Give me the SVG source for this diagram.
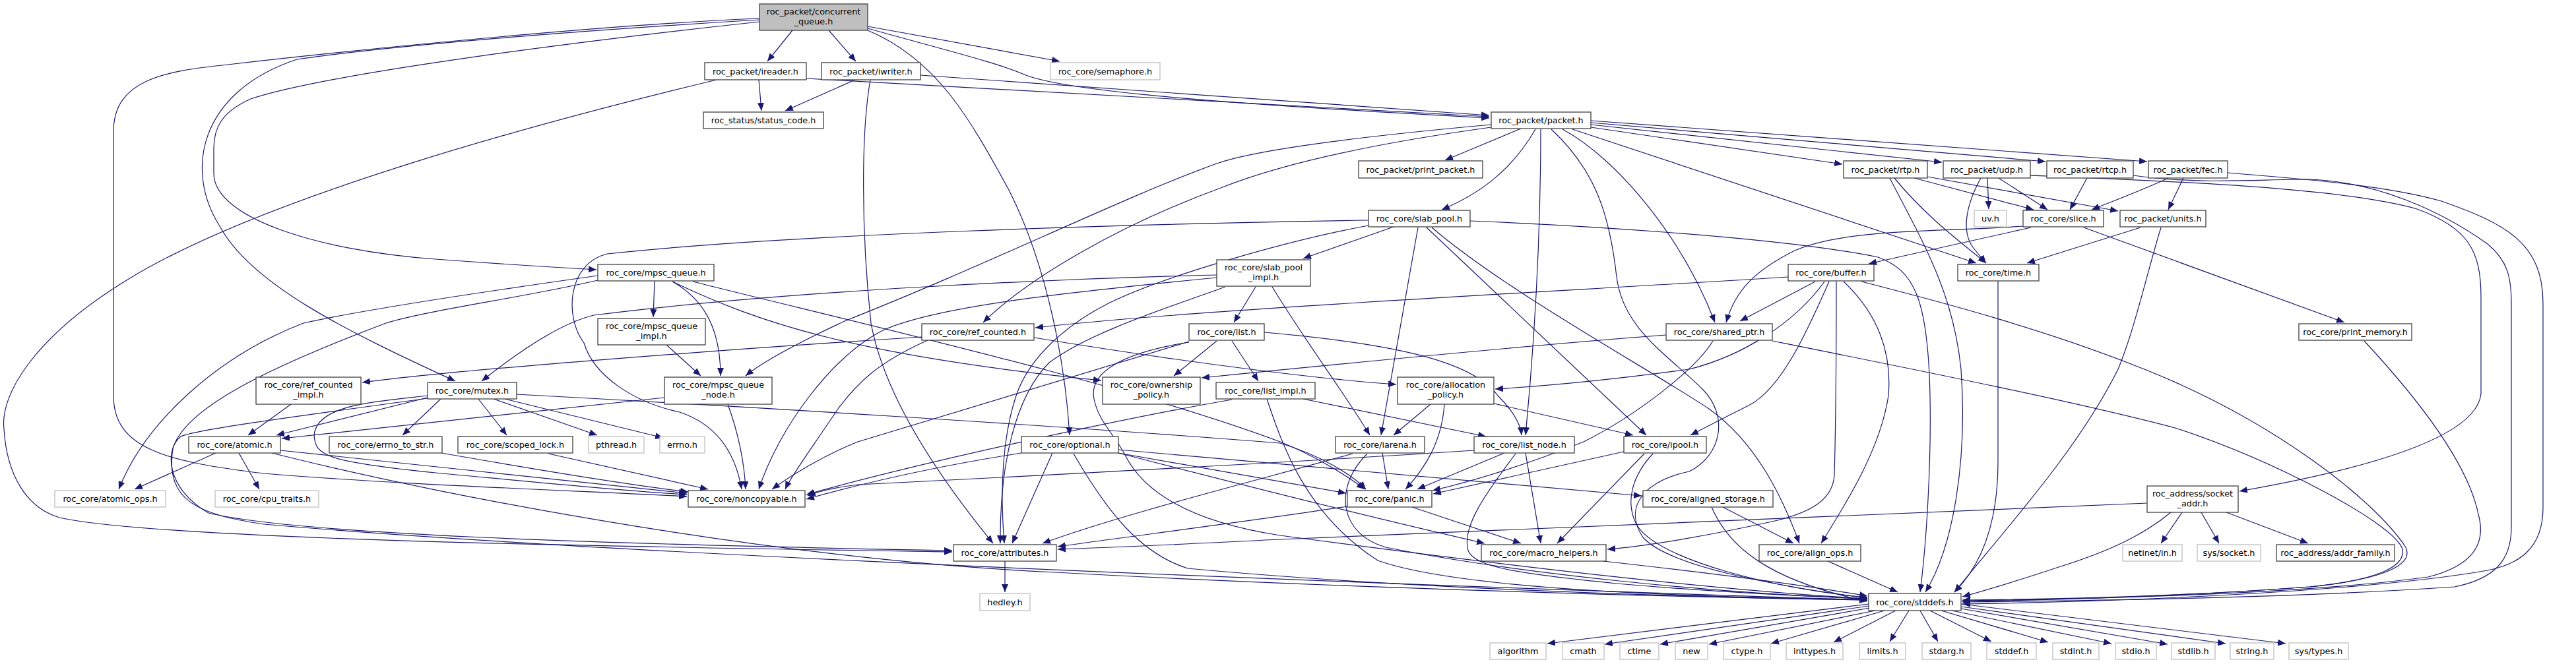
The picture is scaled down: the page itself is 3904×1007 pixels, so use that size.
<svg xmlns="http://www.w3.org/2000/svg" width="3904" height="1007" viewBox="0 0 3904 1007">
<defs>
<style>
.e path{fill:none;stroke:#191970;stroke-width:1.2;marker-end:url(#a)}
.n rect{fill:#fff;stroke:#404040;stroke-width:1.3}
.x rect{fill:#fff;stroke:#bfbfbf;stroke-width:1.3}
.r rect{fill:#bfbfbf;stroke:#404040;stroke-width:1.3}
text{font-family:"DejaVu Sans","Liberation Sans",sans-serif;font-size:12.8px;text-anchor:middle;fill:#000}
</style>
<marker id="a" markerUnits="userSpaceOnUse" markerWidth="12" markerHeight="10" refX="12" refY="5" orient="auto"><path d="M0,0 L12,5 L0,10 z" fill="#191970"/></marker>
</defs>
<rect width="3904" height="1007" fill="#fff"/>
<g id="edges" class="e">
<path d="M1201,46 L1163,93"/>
<path d="M1256,46 L1297,93"/>
<path d="M1315,40 L1606,93"/>
<path d="M1315,43 C1440,78 1510,95 1550,112 C1600,135 1800,155 2257,179"/>
<path d="M1151,33 C900,60 500,110 380,150 C335,170 324,195 324,225 L324,263 C324,330 480,380 660,393 C780,402 850,406 904,409"/>
<path d="M1151,30 C900,45 600,68 450,90 C300,140 280,260 333,343 C380,430 520,500 690,578"/>
<path d="M1151,28 C900,38 500,80 345,98 C250,108 172,120 172,200 L172,600 C172,680 250,700 400,718 C600,735 900,745 1041,753"/>
<path d="M1315,46 C1420,90 1470,180 1530,290 C1590,410 1615,560 1621,660"/>
<path d="M1150,121 L1154,168"/>
<path d="M1296,121 L1190,168"/>
<path d="M1222,119 L2257,177"/>
<path d="M1395,114 L2257,175"/>
<path d="M1086,121 C800,190 400,300 200,420 C50,510 0,600 6,650 C10,720 40,770 90,785 C250,820 1000,830 1443,837"/>
<path d="M1319,121 C1305,200 1305,350 1320,490 C1340,600 1420,720 1505,824"/>
<path d="M2305,195 L2190,243"/>
<path d="M2327,196 C2290,260 2240,295 2185,318"/>
<path d="M2411,193 L2792,249"/>
<path d="M2411,189 L2943,246"/>
<path d="M2411,186 L3100,245"/>
<path d="M2411,183 L3254,245"/>
<path d="M2383,196 L2995,399"/>
<path d="M2368,196 C2450,240 2550,360 2599,489"/>
<path d="M2335,196 C2335,300 2332,450 2312,660"/>
<path d="M2260,193 C2100,215 1950,245 1850,285 C1700,340 1560,420 1490,489"/>
<path d="M2260,189 C2050,208 1900,228 1844,248 C1700,300 1500,400 1280,487 C1220,515 1160,545 1130,570"/>
<path d="M2351,196 C2420,260 2440,330 2450,420 C2460,500 2530,540 2580,590 C2620,630 2610,690 2560,715 C2490,730 2460,770 2490,815 C2530,860 2700,890 2830,907"/>
<path d="M2112,344 L1975,392"/>
<path d="M2149,345 L2093,660"/>
<path d="M2162,345 L2495,660"/>
<path d="M2170,345 C2280,440 2500,560 2590,620 C2660,670 2700,750 2727,824"/>
<path d="M2228,335 C2400,342 2700,360 2846,390 C2900,410 2922,450 2925,600 C2927,700 2920,820 2910,898"/>
<path d="M2074,334 C1700,340 1200,355 920,385 C860,400 855,480 885,520 C900,570 960,610 1030,625 C1090,645 1115,690 1124,742"/>
<path d="M2074,342 C1950,365 1760,420 1680,460 C1620,490 1560,540 1540,600 C1520,660 1515,740 1522,824"/>
<path d="M1903,435 L1870,489"/>
<path d="M1844,417 C1600,423 1200,440 900,478 C850,490 790,530 730,578"/>
<path d="M1844,421 C1600,445 1420,465 1340,500 C1260,540 1180,650 1150,742"/>
<path d="M1857,435 C1760,470 1650,505 1590,550 C1540,600 1515,700 1516,824"/>
<path d="M1928,435 C1980,520 2040,600 2076,660"/>
<path d="M2901,270 L3082,318"/>
<path d="M2921,268 L3210,320"/>
<path d="M2871,270 C2920,330 2975,370 3010,399"/>
<path d="M2864,270 C2910,360 2960,440 2972,560 C2982,700 2960,830 2918,898"/>
<path d="M3012,270 L3014,317"/>
<path d="M3029,270 L3103,318"/>
<path d="M3002,270 C2980,310 2972,350 2990,375 C3000,388 3005,393 3010,399"/>
<path d="M3077,266 C3300,275 3550,285 3663,317 C3740,345 3760,380 3760,450 L3760,597 C3755,650 3650,700 3394,745"/>
<path d="M3163,270 L3137,318"/>
<path d="M3233,266 C3330,280 3420,272 3495,272 C3600,274 3700,320 3770,370 C3800,395 3806,420 3806,460 L3806,800 C3806,850 3780,878 3720,890 C3500,905 3200,911 2974,913"/>
<path d="M3286,270 C3255,285 3210,302 3170,318"/>
<path d="M3309,270 L3286,318"/>
<path d="M3376,262 C3500,272 3620,282 3700,305 C3800,340 3854,370 3854,460 L3854,770 C3854,830 3820,855 3770,865 C3600,895 3250,912 2974,916"/>
<path d="M3244,345 L3072,399"/>
<path d="M3275,345 C3255,410 3235,500 3210,560 C3150,680 3050,790 2962,898"/>
<path d="M3078,345 L2832,400"/>
<path d="M3066,343 C2950,352 2800,345 2720,380 C2660,410 2630,440 2616,489"/>
<path d="M3158,345 L3553,489"/>
<path d="M3028,426 L3028,700 C3028,800 3000,860 2962,898"/>
<path d="M3583,517 C3660,600 3740,700 3756,780 C3770,830 3740,860 3680,875 C3500,900 3200,908 2974,911"/>
<path d="M2710,420 C2400,440 1800,470 1569,497"/>
<path d="M2751,427 L2637,487"/>
<path d="M2772,427 C2740,500 2700,590 2650,615 C2610,635 2585,648 2562,660"/>
<path d="M2765,427 C2720,490 2640,540 2560,560 C2450,575 2350,585 2266,590"/>
<path d="M2783,427 C2783,550 2782,650 2780,720 C2778,760 2740,778 2690,790 C2600,810 2500,828 2436,833"/>
<path d="M2794,427 C2850,480 2867,540 2862,600 C2850,680 2800,760 2760,824"/>
<path d="M2821,427 C2950,460 3100,500 3250,560 C3450,640 3600,760 3646,830 C3660,860 3600,880 3500,890 C3300,905 3100,909 2974,910"/>
<path d="M2525,508 C2300,525 2000,555 1821,573"/>
<path d="M2596,517 C2570,560 2480,630 2400,670 C2300,710 2230,730 2171,744"/>
<path d="M2686,517 C2900,560 3150,610 3300,650 C3450,700 3620,790 3640,830 C3650,860 3600,880 3500,890 C3300,905 3100,910 2974,912"/>
<path d="M3307,777 L3275,824"/>
<path d="M3336,777 L3363,824"/>
<path d="M3374,777 L3498,824"/>
<path d="M3254,763 C3000,770 2500,795 1940,818 C1800,825 1700,830 1603,833"/>
<path d="M3290,777 C3250,810 3200,835 3120,860 C3060,880 3010,895 2974,905"/>
<path d="M2611,769 L2718,824"/>
<path d="M2594,769 C2620,830 2680,880 2830,912"/>
<path d="M2770,851 L2876,898"/>
<path d="M2430,851 C2600,870 2750,890 2830,904"/>
<path d="M1523,851 L1523,898"/>
<path d="M2042,768 C1900,790 1700,815 1603,829"/>
<path d="M2140,769 L2305,824"/>
<path d="M2832,916 L2345,976"/>
<path d="M2832,919 L2432,977"/>
<path d="M2834,922 L2516,977"/>
<path d="M2842,926 L2590,977"/>
<path d="M2856,926 L2684,976"/>
<path d="M2873,926 L2779,974"/>
<path d="M2893,926 L2864,973"/>
<path d="M2910,926 L2937,973"/>
<path d="M2925,926 L3018,973"/>
<path d="M2942,926 L3104,974"/>
<path d="M2958,926 L3200,976"/>
<path d="M2972,923 L3285,977"/>
<path d="M2972,920 L3373,976"/>
<path d="M2972,916 L3464,976"/>
<path d="M992,426 L990,481"/>
<path d="M1019,427 C1060,450 1092,490 1092,570"/>
<path d="M1019,427 C1150,490 1300,540 1669,577"/>
<path d="M1050,427 C1300,490 1700,580 1940,670 C1990,690 2040,720 2068,742"/>
<path d="M906,418 C750,440 550,470 460,490 C330,540 220,640 180,742"/>
<path d="M906,425 C800,450 650,470 585,490 C400,560 280,620 262,680 C250,760 300,780 400,795 C800,830 1600,870 2830,910"/>
<path d="M1010,523 L1062,570"/>
<path d="M1007,603 L427,665"/>
<path d="M1103,613 C1120,660 1128,700 1130,742"/>
<path d="M1397,511 C1100,530 700,560 549,580"/>
<path d="M1567,512 C1800,550 2000,575 2116,583"/>
<path d="M1406,516 C1330,550 1300,580 1270,620 C1230,680 1200,720 1190,742"/>
<path d="M441,613 L376,660"/>
<path d="M648,603 L419,660"/>
<path d="M668,605 L610,660"/>
<path d="M725,605 L768,660"/>
<path d="M748,605 L905,660"/>
<path d="M765,605 L1005,664"/>
<path d="M648,600 C560,610 480,615 476,660 C478,690 490,700 660,717 C800,730 950,745 1041,750"/>
<path d="M783,598 C1100,615 1600,645 1940,672 C2000,690 2050,720 2070,742"/>
<path d="M648,604 C500,625 300,650 274,662 C250,680 250,740 316,778 C450,810 900,825 1443,835"/>
<path d="M327,687 L204,742"/>
<path d="M362,687 L393,742"/>
<path d="M425,683 C600,700 900,735 1041,748"/>
<path d="M412,687 C700,760 1200,850 1600,868 C2000,890 2500,905 2830,910"/>
<path d="M669,687 C800,710 950,735 1043,746"/>
<path d="M831,688 L1073,742"/>
<path d="M1595,687 L1534,824"/>
<path d="M1548,687 C1400,710 1300,735 1222,757"/>
<path d="M1695,682 L2488,752"/>
<path d="M1695,687 L2040,748"/>
<path d="M1627,688 C1680,780 1730,840 1800,862 C2100,890 2500,905 2830,910"/>
<path d="M1695,687 C1900,740 2100,790 2250,824"/>
<path d="M1844,517 L1779,570"/>
<path d="M1867,517 L1907,578"/>
<path d="M1916,504 C2100,520 2230,545 2270,600 C2300,630 2305,650 2306,660"/>
<path d="M1802,518 C1600,580 1400,640 1300,670 C1250,690 1200,720 1170,742"/>
<path d="M1802,519 C1700,535 1650,565 1658,605 C1665,640 1690,660 1705,690 C1740,760 1830,795 1940,812 C2300,860 2600,895 2830,908"/>
<path d="M1975,605 L2252,662"/>
<path d="M1867,606 C1700,635 1400,700 1222,750"/>
<path d="M1920,605 C1945,680 1980,780 2088,850 C2200,890 2500,905 2830,909"/>
<path d="M2168,613 L2112,660"/>
<path d="M2189,613 C2185,670 2160,710 2130,742"/>
<path d="M2264,612 L2475,660"/>
<path d="M2095,687 L2104,742"/>
<path d="M2050,688 C1900,730 1700,780 1580,824"/>
<path d="M2072,688 C2020,740 2030,810 2100,830 C2300,870 2600,900 2830,908"/>
<path d="M2280,687 L2148,742"/>
<path d="M2312,687 L2335,824"/>
<path d="M2297,688 C2250,750 2215,800 2225,835 C2235,860 2300,870 2450,885 C2600,898 2750,905 2830,908"/>
<path d="M2234,683 C1900,705 1500,725 1300,735 C1260,740 1240,745 1224,752"/>
<path d="M2461,685 L2172,749"/>
<path d="M2492,688 L2360,824"/>
<path d="M2505,688 C2475,720 2462,760 2480,795 C2510,850 2700,895 2830,906"/>
</g>
<g id="n_concurrent" class="r"><rect x="1151" y="6" width="164" height="40"/><text x="1233" y="22">roc_packet/concurrent</text><text x="1233" y="37">_queue.h</text></g>
<g id="n_ireader" class="n"><rect x="1068" y="95" width="154" height="26"/><text x="1145" y="112.6">roc_packet/ireader.h</text></g>
<g id="n_iwriter" class="n"><rect x="1245" y="95" width="150" height="26"/><text x="1320" y="112.6">roc_packet/iwriter.h</text></g>
<g id="n_semaphore" class="x"><rect x="1592" y="95" width="166" height="26"/><text x="1675" y="112.6">roc_core/semaphore.h</text></g>
<g id="n_status_code" class="n"><rect x="1066" y="170" width="182" height="25"/><text x="1157" y="187.1">roc_status/status_code.h</text></g>
<g id="n_packet" class="n"><rect x="2260" y="170" width="151" height="25"/><text x="2335.5" y="187.1">roc_packet/packet.h</text></g>
<g id="n_print_packet" class="n"><rect x="2059" y="244" width="188" height="26"/><text x="2153" y="261.6">roc_packet/print_packet.h</text></g>
<g id="n_rtp" class="n"><rect x="2794" y="244" width="127" height="26"/><text x="2857.5" y="261.6">roc_packet/rtp.h</text></g>
<g id="n_udp" class="n"><rect x="2945" y="244" width="132" height="26"/><text x="3011" y="261.6">roc_packet/udp.h</text></g>
<g id="n_rtcp" class="n"><rect x="3102" y="244" width="131" height="26"/><text x="3167.5" y="261.6">roc_packet/rtcp.h</text></g>
<g id="n_fec" class="n"><rect x="3256" y="244" width="120" height="26"/><text x="3316" y="261.6">roc_packet/fec.h</text></g>
<g id="n_slab_pool" class="n"><rect x="2074" y="319" width="154" height="25"/><text x="2151" y="336.1">roc_core/slab_pool.h</text></g>
<g id="n_uv" class="x"><rect x="2992" y="319" width="49" height="25"/><text x="3016.5" y="336.1">uv.h</text></g>
<g id="n_slice" class="n"><rect x="3066" y="319" width="122" height="25"/><text x="3127" y="336.1">roc_core/slice.h</text></g>
<g id="n_units" class="n"><rect x="3213" y="319" width="130" height="25"/><text x="3278" y="336.1">roc_packet/units.h</text></g>
<g id="n_mpsc_queue" class="n"><rect x="906" y="401" width="176" height="25"/><text x="994" y="418.1">roc_core/mpsc_queue.h</text></g>
<g id="n_slab_pool_impl" class="n"><rect x="1844" y="394" width="142" height="40"/><text x="1915" y="410">roc_core/slab_pool</text><text x="1915" y="425">_impl.h</text></g>
<g id="n_buffer" class="n"><rect x="2710" y="401" width="130" height="25"/><text x="2775" y="418.1">roc_core/buffer.h</text></g>
<g id="n_time" class="n"><rect x="2967" y="401" width="123" height="25"/><text x="3028.5" y="418.1">roc_core/time.h</text></g>
<g id="n_mpsc_queue_impl" class="n"><rect x="906" y="483" width="163" height="40"/><text x="987.5" y="499">roc_core/mpsc_queue</text><text x="987.5" y="514">_impl.h</text></g>
<g id="n_ref_counted" class="n"><rect x="1397" y="491" width="170" height="25"/><text x="1482" y="508.1">roc_core/ref_counted.h</text></g>
<g id="n_list" class="n"><rect x="1802" y="491" width="114" height="25"/><text x="1859" y="508.1">roc_core/list.h</text></g>
<g id="n_shared_ptr" class="n"><rect x="2525" y="491" width="161" height="25"/><text x="2605.5" y="508.1">roc_core/shared_ptr.h</text></g>
<g id="n_print_memory" class="n"><rect x="3484" y="491" width="171" height="25"/><text x="3569.5" y="508.1">roc_core/print_memory.h</text></g>
<g id="n_ref_counted_impl" class="n"><rect x="388" y="572" width="159" height="41"/><text x="467.5" y="588">roc_core/ref_counted</text><text x="467.5" y="603">_impl.h</text></g>
<g id="n_mutex" class="n"><rect x="648" y="580" width="135" height="25"/><text x="715.5" y="597.1">roc_core/mutex.h</text></g>
<g id="n_mpsc_queue_node" class="n"><rect x="1007" y="572" width="163" height="41"/><text x="1088.5" y="588">roc_core/mpsc_queue</text><text x="1088.5" y="603">_node.h</text></g>
<g id="n_ownership_policy" class="n"><rect x="1671" y="572" width="148" height="41"/><text x="1745" y="588">roc_core/ownership</text><text x="1745" y="603">_policy.h</text></g>
<g id="n_list_impl" class="n"><rect x="1843" y="580" width="150" height="25"/><text x="1918" y="597.1">roc_core/list_impl.h</text></g>
<g id="n_allocation_policy" class="n"><rect x="2118" y="572" width="146" height="41"/><text x="2191" y="588">roc_core/allocation</text><text x="2191" y="603">_policy.h</text></g>
<g id="n_atomic" class="n"><rect x="286" y="662" width="139" height="25"/><text x="355.5" y="679.1">roc_core/atomic.h</text></g>
<g id="n_errno_to_str" class="n"><rect x="499" y="662" width="171" height="25"/><text x="584.5" y="679.1">roc_core/errno_to_str.h</text></g>
<g id="n_scoped_lock" class="n"><rect x="694" y="662" width="174" height="25"/><text x="781" y="679.1">roc_core/scoped_lock.h</text></g>
<g id="n_pthread" class="x"><rect x="892" y="662" width="84" height="25"/><text x="934" y="679.1">pthread.h</text></g>
<g id="n_errno" class="x"><rect x="1000" y="662" width="68" height="25"/><text x="1034" y="679.1">errno.h</text></g>
<g id="n_optional" class="n"><rect x="1548" y="662" width="147" height="25"/><text x="1621.5" y="679.1">roc_core/optional.h</text></g>
<g id="n_iarena" class="n"><rect x="2024" y="662" width="135" height="25"/><text x="2091.5" y="679.1">roc_core/iarena.h</text></g>
<g id="n_list_node" class="n"><rect x="2234" y="662" width="152" height="25"/><text x="2310" y="679.1">roc_core/list_node.h</text></g>
<g id="n_ipool" class="n"><rect x="2461" y="662" width="125" height="25"/><text x="2523.5" y="679.1">roc_core/ipool.h</text></g>
<g id="n_atomic_ops" class="x"><rect x="83" y="744" width="168" height="25"/><text x="167" y="761.1">roc_core/atomic_ops.h</text></g>
<g id="n_cpu_traits" class="x"><rect x="326" y="744" width="157" height="25"/><text x="404.5" y="761.1">roc_core/cpu_traits.h</text></g>
<g id="n_noncopyable" class="n"><rect x="1043" y="744" width="177" height="25"/><text x="1131.5" y="761.1">roc_core/noncopyable.h</text></g>
<g id="n_panic" class="n"><rect x="2042" y="744" width="128" height="25"/><text x="2106" y="761.1">roc_core/panic.h</text></g>
<g id="n_aligned_storage" class="n"><rect x="2490" y="744" width="197" height="25"/><text x="2588.5" y="761.1">roc_core/aligned_storage.h</text></g>
<g id="n_socket_addr" class="n"><rect x="3254" y="737" width="138" height="40"/><text x="3323" y="753">roc_address/socket</text><text x="3323" y="768">_addr.h</text></g>
<g id="n_attributes" class="n"><rect x="1445" y="826" width="156" height="25"/><text x="1523" y="843.1">roc_core/attributes.h</text></g>
<g id="n_macro_helpers" class="n"><rect x="2245" y="826" width="189" height="25"/><text x="2339.5" y="843.1">roc_core/macro_helpers.h</text></g>
<g id="n_align_ops" class="n"><rect x="2666" y="826" width="154" height="25"/><text x="2743" y="843.1">roc_core/align_ops.h</text></g>
<g id="n_netinet_in" class="x"><rect x="3217" y="826" width="90" height="25"/><text x="3262" y="843.1">netinet/in.h</text></g>
<g id="n_sys_socket" class="x"><rect x="3330" y="826" width="96" height="25"/><text x="3378" y="843.1">sys/socket.h</text></g>
<g id="n_addr_family" class="n"><rect x="3450" y="826" width="179" height="25"/><text x="3539.5" y="843.1">roc_address/addr_family.h</text></g>
<g id="n_hedley" class="x"><rect x="1485" y="900" width="76" height="26"/><text x="1523" y="917.6">hedley.h</text></g>
<g id="n_stddefs" class="n"><rect x="2832" y="900" width="140" height="26"/><text x="2902" y="917.6">roc_core/stddefs.h</text></g>
<g id="n_algorithm" class="x"><rect x="2258" y="975" width="85" height="25"/><text x="2300.5" y="992.1">algorithm</text></g>
<g id="n_cmath" class="x"><rect x="2368" y="975" width="63" height="25"/><text x="2399.5" y="992.1">cmath</text></g>
<g id="n_ctime" class="x"><rect x="2455" y="975" width="59" height="25"/><text x="2484.5" y="992.1">ctime</text></g>
<g id="n_new" class="x"><rect x="2539" y="975" width="49" height="25"/><text x="2563.5" y="992.1">new</text></g>
<g id="n_ctype" class="x"><rect x="2612" y="975" width="71" height="25"/><text x="2647.5" y="992.1">ctype.h</text></g>
<g id="n_inttypes" class="x"><rect x="2707" y="975" width="86" height="25"/><text x="2750" y="992.1">inttypes.h</text></g>
<g id="n_limits" class="x"><rect x="2818" y="975" width="70" height="25"/><text x="2853" y="992.1">limits.h</text></g>
<g id="n_stdarg" class="x"><rect x="2913" y="975" width="74" height="25"/><text x="2950" y="992.1">stdarg.h</text></g>
<g id="n_stddef" class="x"><rect x="3011" y="975" width="75" height="25"/><text x="3048.5" y="992.1">stddef.h</text></g>
<g id="n_stdint" class="x"><rect x="3111" y="975" width="70" height="25"/><text x="3146" y="992.1">stdint.h</text></g>
<g id="n_stdio" class="x"><rect x="3206" y="975" width="62" height="25"/><text x="3237" y="992.1">stdio.h</text></g>
<g id="n_stdlib" class="x"><rect x="3291" y="975" width="66" height="25"/><text x="3324" y="992.1">stdlib.h</text></g>
<g id="n_string" class="x"><rect x="3380" y="975" width="66" height="25"/><text x="3413" y="992.1">string.h</text></g>
<g id="n_sys_types" class="x"><rect x="3469" y="975" width="90" height="25"/><text x="3514" y="992.1">sys/types.h</text></g>
</svg>
